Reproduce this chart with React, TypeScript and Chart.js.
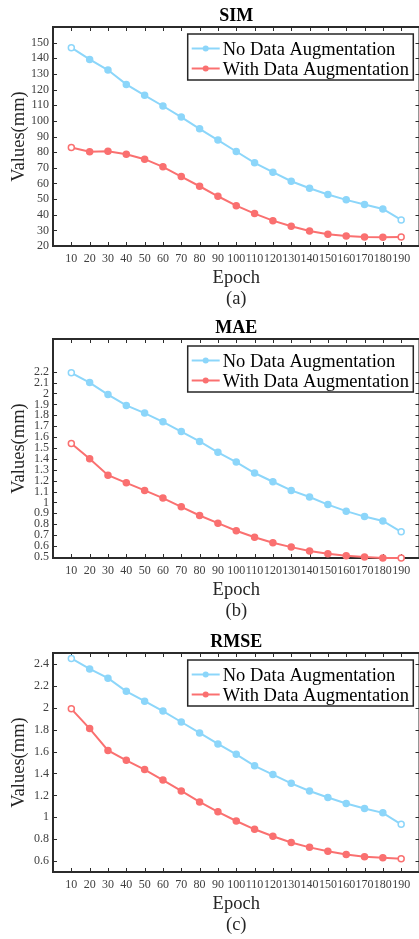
import React, { useEffect, useRef } from "react";
import { Chart, registerables } from "chart.js";

Chart.register(...registerables);

const epochs = [10, 20, 30, 40, 50, 60, 70, 80, 90, 100, 110, 120, 130, 140, 150, 160, 170, 180, 190];

const simNoAug = [146.8, 139.3, 132.5, 123.3, 116.3, 109.5, 102.4, 94.9, 87.7, 80.4, 73.2, 67.2, 61.4, 56.9, 52.9, 49.5, 46.5, 43.7, 36.7];
const simWithAug = [83.0, 80.2, 80.6, 78.7, 75.5, 70.6, 64.4, 58.2, 51.8, 45.8, 40.7, 36.2, 32.6, 29.6, 27.5, 26.4, 25.8, 25.6, 25.8];
const maeNoAug = [2.19, 2.1, 1.99, 1.89, 1.82, 1.74, 1.65, 1.56, 1.46, 1.37, 1.27, 1.19, 1.11, 1.05, 0.98, 0.92, 0.87, 0.83, 0.73];
const maeWithAug = [1.54, 1.4, 1.25, 1.18, 1.11, 1.04, 0.96, 0.88, 0.81, 0.74, 0.68, 0.63, 0.59, 0.555, 0.53, 0.51, 0.5, 0.49, 0.49];
const rmseNoAug = [2.45, 2.355, 2.27, 2.15, 2.06, 1.97, 1.87, 1.77, 1.67, 1.575, 1.47, 1.39, 1.31, 1.24, 1.18, 1.125, 1.08, 1.04, 0.935];
const rmseWithAug = [1.99, 1.81, 1.61, 1.52, 1.435, 1.34, 1.24, 1.14, 1.05, 0.966, 0.89, 0.826, 0.77, 0.725, 0.69, 0.66, 0.64, 0.63, 0.62];

const simTicks = [20, 30, 40, 50, 60, 70, 80, 90, 100, 110, 120, 130, 140, 150];
const maeTicks = [0.5, 0.6, 0.7, 0.8, 0.9, 1, 1.1, 1.2, 1.3, 1.4, 1.5, 1.6, 1.7, 1.8, 1.9, 2, 2.1, 2.2];
const rmseTicks = [0.6, 0.8, 1, 1.2, 1.4, 1.6, 1.8, 2, 2.2, 2.4];

const seriesLabels = ["No Data Augmentation", "With Data Augmentation"];
const titles = ["SIM", "MAE", "RMSE"];
const captions = ["(a)", "(b)", "(c)"];

const BLUE = "rgb(140,214,250)";
const RED = "rgb(250,112,112)";
const FONT = "'Liberation Serif', 'Times New Roman', serif";
const AXIS = "#2b2b2b";

const CW = 425;
const CH = 313;

const decor = {
  id: "decor",
  beforeDatasetsDraw(chart: any) {
    const { ctx, chartArea, scales } = chart;
    const { left, right, top, bottom } = chartArea;
    const x = scales.x;
    const y = scales.y;
    ctx.save();
    ctx.strokeStyle = AXIS;
    ctx.lineWidth = 1;
    ctx.beginPath();
    x.ticks.forEach((t: any) => {
      const px = Math.round(x.getPixelForValue(t.value)) + 0.5;
      ctx.moveTo(px, bottom);
      ctx.lineTo(px, bottom - 4);
      ctx.moveTo(px, top);
      ctx.lineTo(px, top + 4);
    });
    y.ticks.forEach((t: any) => {
      const py = Math.round(y.getPixelForValue(t.value)) + 0.5;
      ctx.moveTo(left, py);
      ctx.lineTo(left + 4, py);
      ctx.moveTo(right, py);
      ctx.lineTo(right - 4, py);
    });
    ctx.stroke();
    ctx.lineWidth = 2;
    ctx.strokeRect(left, top, right - left, bottom - top);
    ctx.restore();
  },
  afterDraw(chart: any, _args: any, opts: any) {
    const { ctx, chartArea } = chart;
    const { left, right, top, bottom } = chartArea;
    const cx = (left + right) / 2;
    ctx.save();
    // title
    ctx.fillStyle = "#000";
    ctx.font = `bold 18px ${FONT}`;
    ctx.textAlign = "center";
    ctx.textBaseline = "alphabetic";
    ctx.fillText(opts.title, cx, top - 6.5);
    // x title
    ctx.fillStyle = "#262626";
    ctx.font = `18.5px ${FONT}`;
    ctx.fillText("Epoch", cx, bottom + 37);
    ctx.fillText(opts.caption, cx, bottom + 58);
    // y title
    ctx.save();
    ctx.translate(24, (top + bottom) / 2);
    ctx.rotate(-Math.PI / 2);
    ctx.textAlign = "center";
    ctx.textBaseline = "alphabetic";
    ctx.fillText("Values(mm)", 0, 0);
    ctx.restore();
    // legend
    const bl = 187.7;
    const br = 413.3;
    const bt = top + 7;
    const bh = 46;
    ctx.fillStyle = "#fff";
    ctx.fillRect(bl, bt, br - bl, bh);
    ctx.strokeStyle = "#262626";
    ctx.lineWidth = 1.5;
    ctx.strokeRect(bl, bt, br - bl, bh);
    chart.data.datasets.forEach((ds: any, i: number) => {
      const ly = bt + 14.5 + i * 20;
      ctx.strokeStyle = ds.borderColor;
      ctx.lineWidth = 2;
      ctx.beginPath();
      ctx.moveTo(bl + 4, ly);
      ctx.lineTo(bl + 32, ly);
      ctx.stroke();
      ctx.fillStyle = ds.borderColor;
      ctx.beginPath();
      ctx.arc(bl + 18, ly, 3, 0, Math.PI * 2);
      ctx.fill();
      ctx.fillStyle = "#000";
      ctx.font = `18.5px ${FONT}`;
      ctx.textAlign = "left";
      ctx.fillText(ds.label, bl + 35, ly + 6);
    });
    ctx.restore();
  },
};

function pointFills(color: string, n: number) {
  return Array.from({ length: n }, (_, i) => (i === 0 || i === n - 1 ? "#fff" : color));
}

function fmt(v: number) {
  return parseFloat(Number(v).toFixed(2)).toString();
}

type PanelProps = {
  idx: number;
  a: number[];
  b: number[];
  yTicks: number[];
  yMin: number;
  yMax: number;
};

function Panel({ idx, a, b, yTicks, yMin, yMax }: PanelProps) {
  const ref = useRef<HTMLCanvasElement | null>(null);
  useEffect(() => {
    if (!ref.current) return;
    const mk = (label: string, data: number[], color: string) => ({
      label,
      data: data.map((v, i) => ({ x: epochs[i], y: v })),
      borderColor: color,
      backgroundColor: color,
      pointBackgroundColor: pointFills(color, data.length),
      pointBorderColor: color,
      pointRadius: 3,
      pointBorderWidth: 1.5,
      borderWidth: 2,
      tension: 0,
      clip: false as any,
    });
    const chart = new Chart(ref.current, {
      type: "line",
      data: {
        datasets: [mk(seriesLabels[0], a, BLUE), mk(seriesLabels[1], b, RED)],
      },
      options: {
        animation: false,
        responsive: false,
        events: [],
        layout: { padding: { top: 27, left: 0, right: 4, bottom: 0 } },
        plugins: {
          legend: { display: false },
          title: { display: false },
          tooltip: { enabled: false },
          decor: { title: titles[idx], caption: captions[idx] },
        } as any,
        scales: {
          x: {
            type: "linear",
            min: 0,
            max: 200,
            afterBuildTicks: (s: any) => {
              s.ticks = epochs.map((v) => ({ value: v }));
            },
            afterFit: (s: any) => {
              s.height = 67;
            },
            grid: { display: false, drawTicks: false },
            border: { display: false },
            ticks: {
              autoSkip: false,
              maxRotation: 0,
              minRotation: 0,
              padding: 6,
              color: "#404040",
              font: { family: FONT, size: 12 },
              callback: (v: any) => String(v),
            },
          },
          y: {
            type: "linear",
            min: yMin,
            max: yMax,
            afterBuildTicks: (s: any) => {
              s.ticks = yTicks.map((v) => ({ value: v }));
            },
            afterFit: (s: any) => {
              s.width = 53;
            },
            grid: { display: false, drawTicks: false },
            border: { display: false },
            ticks: {
              autoSkip: false,
              padding: 4,
              color: "#404040",
              font: { family: FONT, size: 12 },
              callback: (v: any) => fmt(v),
            },
          },
        },
      } as any,
      plugins: [decor],
    });
    return () => chart.destroy();
  }, []);
  return <canvas ref={ref} width={CW} height={CH} style={{ width: CW, height: CH, display: "block" }} />;
}

export default function App() {
  const tops = [0, 312, 626];
  return (
    <div
      style={{
        position: "absolute",
        left: 0,
        top: 0,
        width: 419,
        height: 939,
        overflow: "hidden",
        background: "#fff",
      }}
    >
      <div style={{ position: "absolute", left: 0, top: tops[0] }}>
        <Panel idx={0} a={simNoAug} b={simWithAug} yTicks={simTicks} yMin={20} yMax={160} />
      </div>
      <div style={{ position: "absolute", left: 0, top: tops[1] }}>
        <Panel idx={1} a={maeNoAug} b={maeWithAug} yTicks={maeTicks} yMin={0.49} yMax={2.5} />
      </div>
      <div style={{ position: "absolute", left: 0, top: tops[2] }}>
        <Panel idx={2} a={rmseNoAug} b={rmseWithAug} yTicks={rmseTicks} yMin={0.5} yMax={2.5} />
      </div>
    </div>
  );
}
